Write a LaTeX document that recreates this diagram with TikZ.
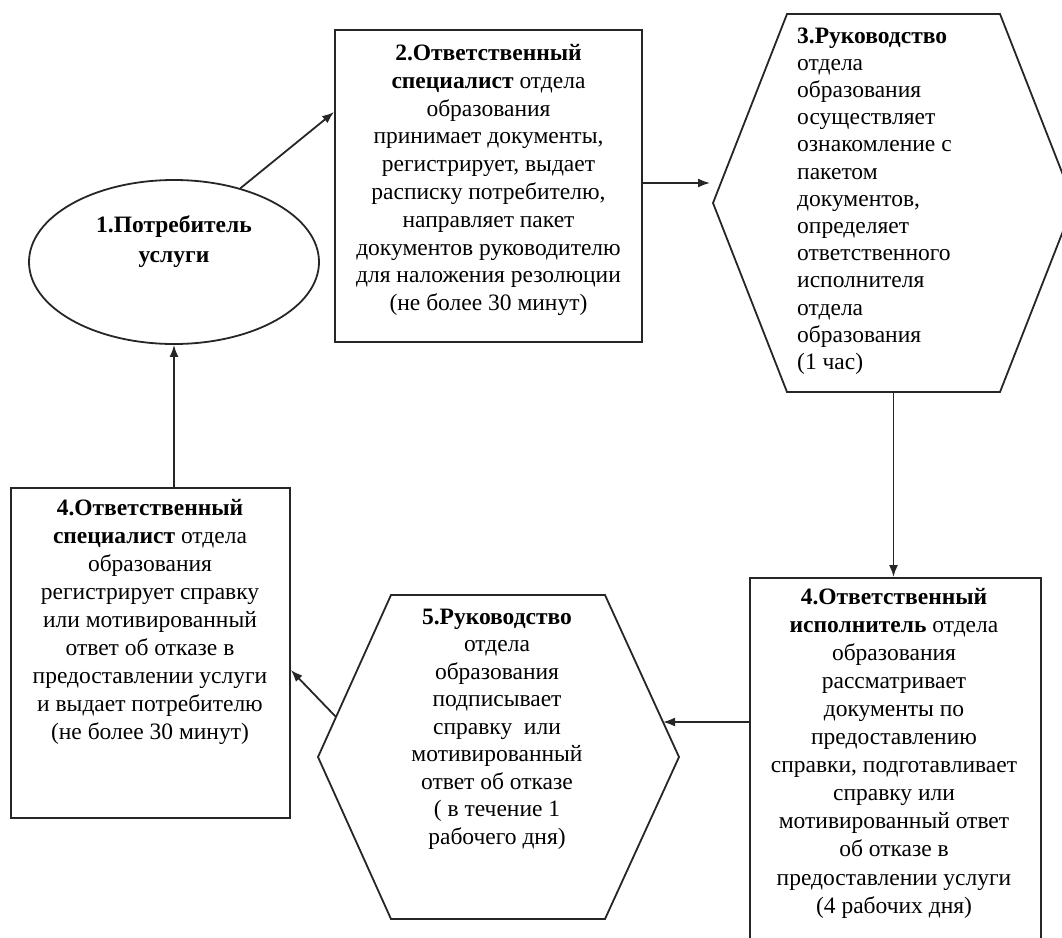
\documentclass[tikz,border=0pt]{standalone}
\usepackage{fontspec}
\setmainfont{Liberation Serif}
\usetikzlibrary{arrows.meta,shapes.geometric,calc}
\tikzset{
  line/.style={draw=black!85, line width=1.8pt},
  arr/.style={draw=black!85, line width=1.8pt, -{Latex[length=12pt,width=9pt]}},
  boxnode/.style={line, rectangle, inner sep=0pt, fill=white},
  hexframe/.style={rectangle, inner sep=0pt, outer sep=0pt},
  txt/.style={font=\fontsize{23.5}{27.8}\selectfont, align=center, inner sep=0pt, text=black},
}
\begin{document}
\begin{tikzpicture}[x=1pt,y=-1pt]
\useasboundingbox (0,0) rectangle (1062,937);
\clip (0,0) rectangle (1062,937);

% 1. ellipse
\node[line, ellipse, minimum width=290pt, minimum height=164pt, inner sep=0pt] (n1) at (174,262) {};
\node[txt, font=\fontsize{23.5}{30}\selectfont\bfseries] (n1t) at (174,242) {1.Потребитель\\услуги};

% 2. box
\node[boxnode, minimum width=307pt, minimum height=312pt] (b2) at (488.5,186) {};
\node[txt] (b2t) at (488.5,180) {\textbf{2.Ответственный}\\\textbf{специалист} отдела\\образования\\принимает документы,\\регистрирует, выдает\\расписку потребителю,\\направляет пакет\\документов руководителю\\для наложения резолюции\\(не более 30 минут)};

% 3. hexagon
\node[hexframe, minimum width=361pt, minimum height=378pt] (h3) at (893.5,203) {};
\draw[line] (h3.west) -- ([xshift=74pt]h3.north west) -- ([xshift=-74pt]h3.north east) -- (h3.east) -- ([xshift=-74pt]h3.south east) -- ([xshift=74pt]h3.south west) -- cycle;
\node[txt, align=left, anchor=west, font=\fontsize{23.5}{27.2}\selectfont] (h3t) at (797,201) {\textbf{3.Руководство}\\отдела\\образования\\осуществляет\\ознакомление с\\пакетом\\документов,\\определяет\\ответственного\\исполнителя\\отдела\\образования\\(1 час)};

% 4. box (executor)
\node[boxnode, minimum width=291pt, minimum height=373pt, anchor=north west] (b6) at (749,577) {};
\node[txt, font=\fontsize{23.5}{28.1}\selectfont] (b6t) at (894,753) {\textbf{4.Ответственный}\\\textbf{исполнитель} отдела\\образования\\рассматривает\\документы по\\предоставлению\\справки, подготавливает\\справку или\\мотивированный ответ\\об отказе в\\предоставлении услуги\\(4 рабочих дня)};

% 5. hexagon
\node[hexframe, minimum width=361pt, minimum height=324pt] (h5) at (498.5,757) {};
\draw[line] (h5.west) -- ([xshift=73pt]h5.north west) -- ([xshift=-74pt]h5.north east) -- (h5.east) -- ([xshift=-74pt]h5.south east) -- ([xshift=73pt]h5.south west) -- cycle;
\node[txt, font=\fontsize{23.5}{27.5}\selectfont] (h5t) at (497,729) {\textbf{5.Руководство}\\отдела\\образования\\подписывает\\справку\ \ или\\мотивированный\\ответ об отказе\\( в течение 1\\рабочего дня)};

% 4. box (specialist)
\node[boxnode, minimum width=279pt, minimum height=330pt, anchor=north west] (b4) at (10,487) {};
\node[txt, font=\fontsize{23.5}{27.9}\selectfont] (b4t) at (150,622) {\textbf{4.Ответственный}\\\textbf{специалист} отдела\\образования\\регистрирует справку\\или мотивированный\\ответ об отказе в\\предоставлении услуги\\и выдает потребителю\\(не более 30 минут)};

% connector end points
\coordinate (h3in) at (710,183);
\coordinate (h5in) at (663,722);
\coordinate (h5out) at (336,717);

% connectors
\draw[arr] (n1.48) -- (b2.west |- 0,112);
\draw[arr] (b2.east |- h3in) -- (h3in);
\draw[arr] (h3.south) -- (h3.south |- b6.north);
\draw[arr] (b6.west |- h5in) -- (h5in);
\draw[arr] (h5out) -- (b4.east |- 0,670);
\draw[arr] (n1.south |- b4.north) -- (n1.south);
\end{tikzpicture}
\end{document}
